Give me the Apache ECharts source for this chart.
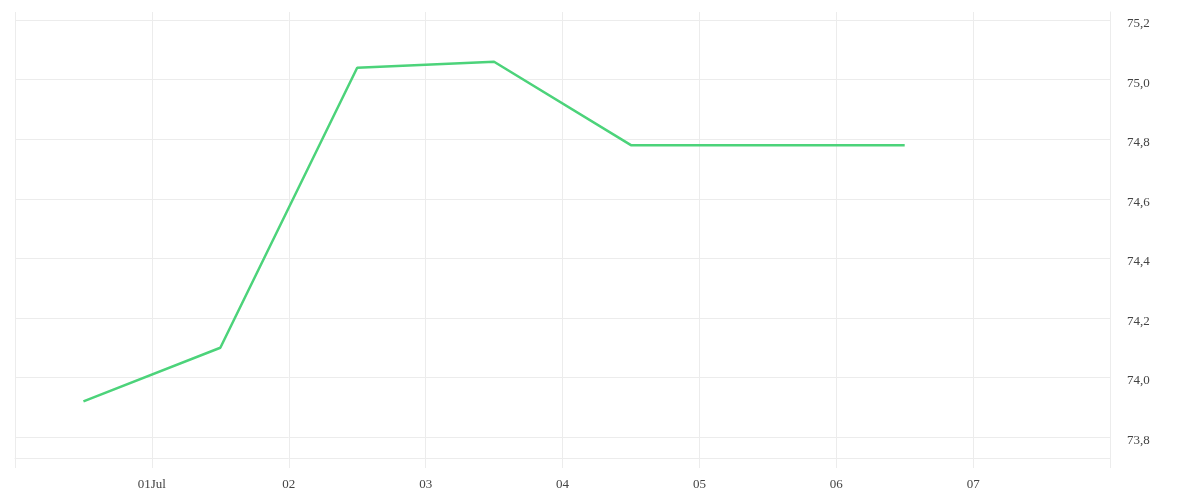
<!DOCTYPE html>
<html>
<head>
<meta charset="utf-8">
<title>Line chart</title>
<script src="https://cdn.jsdelivr.net/npm/echarts@6/dist/echarts.min.js"></script>
<style>
  html, body { margin: 0; padding: 0; background: #fff; }
  #chart { width: 1200px; height: 500px; }
</style>
</head>
<body>
<div id="chart"></div>
<script>
// data
var dates = ['2024-06-30 12:00', '2024-07-01 12:00', '2024-07-02 12:00', '2024-07-03 12:00',
             '2024-07-04 12:00', '2024-07-05 12:00', '2024-07-06 12:00'];
var values = [73.92, 74.10, 75.04, 75.06, 74.78, 74.78, 74.78];
var yTicks = [73.8, 74.0, 74.2, 74.4, 74.6, 74.8, 75.0, 75.2];
var xStart = '2024-06-30 00:00';
var xEnd = '2024-07-08 00:00';
var monthNames = ['Jan','Feb','Mar','Apr','May','Jun','Jul','Aug','Sep','Oct','Nov','Dec'];

var myChart = echarts.init(document.getElementById('chart'));
var gridColor = '#ececec';
var labelFont = { color: '#444', fontFamily: 'Liberation Serif', fontSize: 13 };
var tStart = echarts.time.parse(xStart).getTime();
var tEnd = echarts.time.parse(xEnd).getTime();

var option = {
    animation: false,
    grid: { left: 15, right: 90, top: 12, bottom: 42 },
    xAxis: {
        type: 'time',
        min: xStart,
        max: xEnd,
        minInterval: 86400000,
        maxInterval: 86400000,
        axisLine: { show: true, lineStyle: { color: gridColor } },
        axisTick: { show: true, length: 10, lineStyle: { color: gridColor } },
        splitLine: { show: true, lineStyle: { color: gridColor } },
        axisLabel: Object.assign({
            margin: 20,
            hideOverlap: false,
            formatter: function (val) {
                // no label on the range ends
                if (val <= tStart || val >= tEnd) return '';
                var d = new Date(val);
                var dd = (d.getDate() < 10 ? '0' : '') + d.getDate();
                return d.getDate() === 1 ? dd + monthNames[d.getMonth()] : dd;
            }
        }, labelFont)
    },
    yAxis: {
        type: 'value',
        position: 'right',
        min: 73.73,
        max: 75.227,
        axisLine: { show: true, lineStyle: { color: gridColor } },
        axisTick: { show: false, customValues: yTicks },
        splitLine: { show: true, lineStyle: { color: gridColor } },
        axisLabel: Object.assign({
            customValues: yTicks,
            margin: 17,
            verticalAlign: 'top',
            padding: [-3, 0, 0, 0],
            formatter: function (v) { return v.toFixed(1).replace('.', ','); }
        }, labelFont)
    },
    series: [
        {
            type: 'line',
            data: dates.map(function (d, i) { return [d, values[i]]; }),
            showSymbol: false,
            lineStyle: { color: '#4cd37a', width: 2.5 },
            itemStyle: { color: '#4cd37a' }
        }
    ]
};

myChart.setOption(option);
window.onresize = myChart.resize;
</script>
</body>
</html>
